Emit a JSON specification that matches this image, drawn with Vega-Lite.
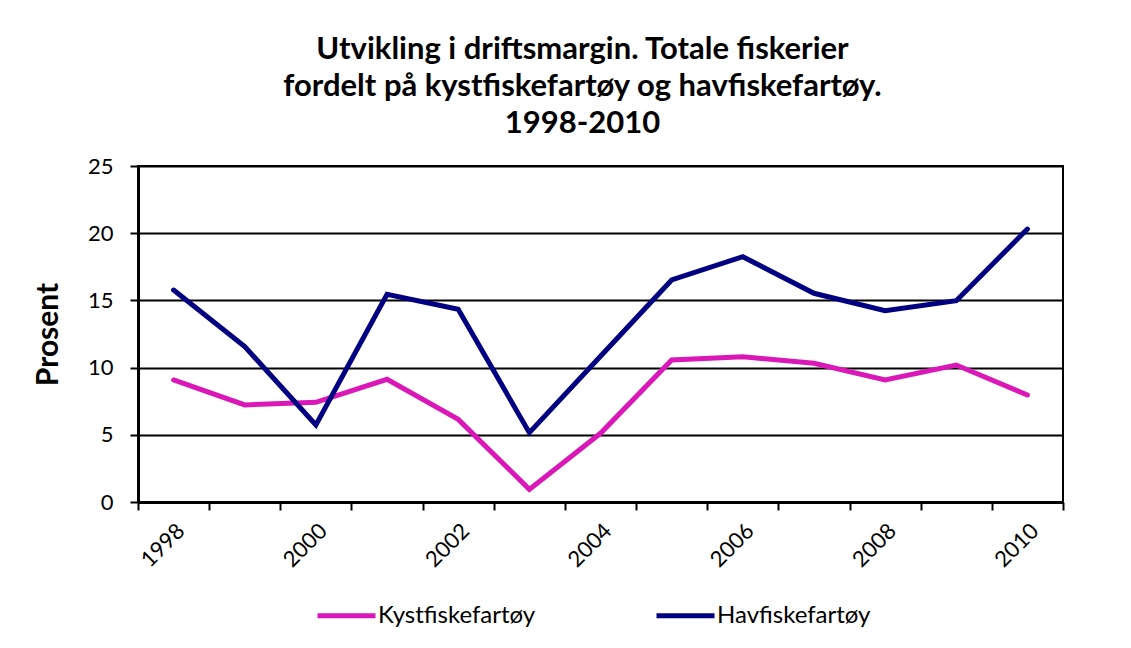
{
  "$schema": "https://vega.github.io/schema/vega-lite/v6.json",
  "width": 925,
  "height": 336,
  "autosize": {"type": "none"},
  "padding": {"left": 138, "top": 166, "right": 68, "bottom": 146},
  "background": "white",
  "title": {
    "text": ["Utvikling i driftsmargin. Totale fiskerier", "fordelt på kystfiskefartøy og havfiskefartøy.", "1998-2010"],
    "font": "Lato",
    "fontSize": 31,
    "fontWeight": "bold",
    "color": "black",
    "lineHeight": 37,
    "anchor": "middle",
    "dx": -18,
    "offset": 15
  },
  "data": {
    "values": [
      {"year": "1998", "serie": "Kystfiskefartøy", "v": 9.08},
      {"year": "1999", "serie": "Kystfiskefartøy", "v": 7.22},
      {"year": "2000", "serie": "Kystfiskefartøy", "v": 7.42},
      {"year": "2001", "serie": "Kystfiskefartøy", "v": 9.13},
      {"year": "2002", "serie": "Kystfiskefartøy", "v": 6.15},
      {"year": "2003", "serie": "Kystfiskefartøy", "v": 0.94},
      {"year": "2004", "serie": "Kystfiskefartøy", "v": 5.11},
      {"year": "2005", "serie": "Kystfiskefartøy", "v": 10.57},
      {"year": "2006", "serie": "Kystfiskefartøy", "v": 10.81},
      {"year": "2007", "serie": "Kystfiskefartøy", "v": 10.32},
      {"year": "2008", "serie": "Kystfiskefartøy", "v": 9.08},
      {"year": "2009", "serie": "Kystfiskefartøy", "v": 10.19},
      {"year": "2010", "serie": "Kystfiskefartøy", "v": 7.96},
      {"year": "1998", "serie": "Havfiskefartøy", "v": 15.77},
      {"year": "1999", "serie": "Havfiskefartøy", "v": 11.56},
      {"year": "2000", "serie": "Havfiskefartøy", "v": 5.73},
      {"year": "2001", "serie": "Havfiskefartøy", "v": 15.45},
      {"year": "2002", "serie": "Havfiskefartøy", "v": 14.34},
      {"year": "2003", "serie": "Havfiskefartøy", "v": 5.16},
      {"year": "2004", "serie": "Havfiskefartøy", "v": 10.85},
      {"year": "2005", "serie": "Havfiskefartøy", "v": 16.52},
      {"year": "2006", "serie": "Havfiskefartøy", "v": 18.25},
      {"year": "2007", "serie": "Havfiskefartøy", "v": 15.53},
      {"year": "2008", "serie": "Havfiskefartøy", "v": 14.23},
      {"year": "2009", "serie": "Havfiskefartøy", "v": 14.98},
      {"year": "2010", "serie": "Havfiskefartøy", "v": 20.31}
    ]
  },
  "mark": {"type": "line", "strokeWidth": 5, "strokeCap": "round", "strokeJoin": "miter"},
  "encoding": {
    "x": {
      "field": "year",
      "type": "ordinal",
      "bandPosition": 0.5,
      "scale": {"type": "band", "paddingInner": 0, "paddingOuter": 0},
      "axis": {
        "title": null,
        "labelAngle": -45,
        "labelExpr": "toNumber(datum.value) % 2 == 0 ? datum.label : ''",
        "labelFont": "Lato",
        "labelFontSize": 22,
        "labelColor": "black",
        "labelPadding": 10,
        "tickBand": "extent",
        "tickSize": 8,
        "tickWidth": 2,
        "tickColor": "black",
        "domainColor": "black",
        "domainWidth": 3,
        "grid": false
      }
    },
    "y": {
      "field": "v",
      "type": "quantitative",
      "scale": {"domain": [0, 25], "nice": false},
      "axis": {
        "values": [0, 5, 10, 15, 20, 25],
        "title": "Prosent",
        "titleFont": "Lato",
        "titleFontSize": 30,
        "titleFontWeight": "bold",
        "titleColor": "black",
        "titlePadding": 24,
        "labelFont": "Lato",
        "labelFontSize": 22,
        "labelColor": "black",
        "labelPadding": 17,
        "tickSize": 8,
        "tickWidth": 2,
        "tickColor": "black",
        "domainColor": "black",
        "domainWidth": 3,
        "grid": true,
        "gridColor": "black",
        "gridWidth": 2,
        "gridOpacity": 1
      }
    },
    "color": {
      "field": "serie",
      "type": "nominal",
      "scale": {"domain": ["Kystfiskefartøy", "Havfiskefartøy"], "range": ["#DA18B8", "#000080"]},
      "legend": {
        "title": null,
        "orient": "none",
        "direction": "horizontal",
        "legendX": 177,
        "legendY": 418,
        "symbolType": "stroke",
        "symbolSize": 3364,
        "symbolStrokeWidth": 5,
        "labelFont": "Lato",
        "labelFontSize": 24,
        "labelColor": "black",
        "labelOffset": 0,
        "columnPadding": 110
      }
    }
  },
  "config": {
    "view": {"stroke": "black", "strokeWidth": 2}
  }
}
